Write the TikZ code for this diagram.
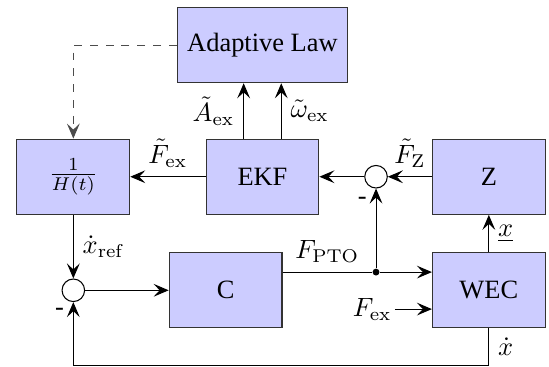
\documentclass[tikz,border=0pt]{standalone}
\usepackage[no-math]{fontspec}
\setmainfont{Liberation Serif}
\usepackage{tikz}
\usetikzlibrary{arrows.meta,positioning}
\usepackage{xcolor}
\definecolor{block-fill}{HTML}{ccccff}
\definecolor{block-edge}{HTML}{333333}

\begin{document}
\begin{tikzpicture}[>={Stealth[length=2mm, width=1.7mm, inset=0.8mm]}, auto]
  \tikzstyle{block}=[draw=block-edge, fill=block-fill, minimum width=1.5cm, minimum height=1cm]
  \tikzstyle{sum}=[draw, circle, fill=white, inner sep=0pt, minimum size=0.3cm]
  \tikzstyle{fork}=[circle, fill, inner sep=0pt, minimum size=2.6pt]
  \useasboundingbox (0,0) rectangle (7.3,-4.88);

  \node[block, minimum width=2.26cm] (law)  at (3.49,-0.6)  {Adaptive Law};
  \node[block]                       (hinv) at (0.975,-2.35) {$\frac{1}{H(t)}$};
  \node[block]                       (ekf)  at (3.49,-2.35)  {EKF};
  \node[block]                       (imp)  at (6.5,-2.35)   {Z};
  \node[block]                       (ctrl) at (3.0,-3.86)   {C};
  \node[block]                       (wec)  at (6.5,-3.86)   {WEC};
  \node[sum]                         (sz)   at (5.0,-2.35)   {};
  \node[sum]                         (se)   at (0.975,-3.86) {};
  \node[fork]                        (jt)   at (5.0,-3.618)  {};
  \node[anchor=east, inner sep=1pt]  (fex)  at (5.25,-4.11)  {$F_{\mathrm{ex}}$};
  \coordinate (fb) at (6.5,-4.855);

  %% estimator loop
  \draw[->] ([xshift=-0.25cm]ekf.north) -- node[left]  {$\tilde{A}_{\mathrm{ex}}$}      ([xshift=-0.25cm]law.south);
  \draw[->] ([xshift=0.25cm]ekf.north)  -- node[right] {$\tilde{\omega}_{\mathrm{ex}}$} ([xshift=0.25cm]law.south);
  \draw[->, dashed, black!70] (law.west) -| (hinv.north);
  \draw[->] (ekf) -- node[above] {$\tilde{F}_{\mathrm{ex}}$} (hinv);
  \draw[->] (imp) -- node[above] {$\tilde{F}_{\mathrm{Z}}$} (sz);
  \draw[->] (sz)  -- (ekf);
  \draw[->] (wec) -- node[right] {$\underline{x}$} (imp);
  \draw[->] (jt)  -- node[pos=0.85, left] {-} (sz);

  %% control loop
  \draw[->] (hinv) -- node[right] {$\dot{x}_{\mathrm{ref}}$} (se);
  \draw[->] (se) -- (ctrl);
  \draw (jt -| ctrl.east) -- node[above] {$F_{\mathrm{PTO}}$} (jt);
  \draw[->] (jt) -- (jt -| wec.west);
  \draw[->] (fex) -- (fex -| wec.west);
  \draw[->] (wec) -- node[right] {$\dot{x}$} (fb) -| node[pos=0.92, left] {-} (se);
\end{tikzpicture}
\end{document}
